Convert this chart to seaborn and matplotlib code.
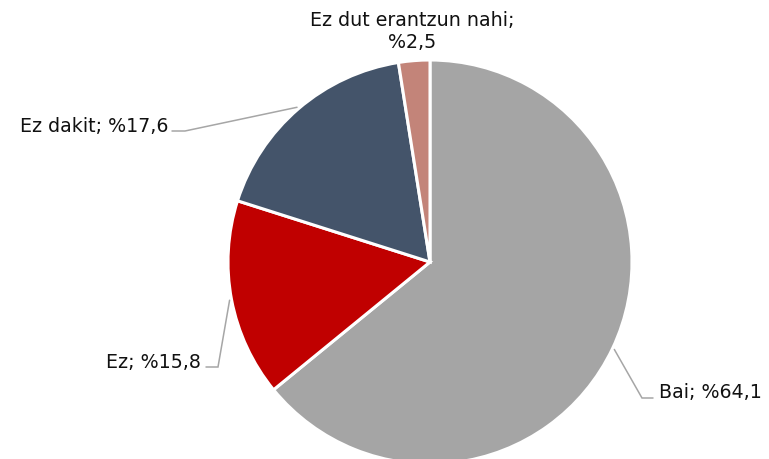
import seaborn as sns
import matplotlib.pyplot as plt
import numpy as np

# data
labels = ['Bai', 'Ez', 'Ez dakit', 'Ez dut erantzun nahi']
values = [64.1, 15.8, 17.6, 2.5]
colors = ['#A5A5A5', '#C00000', '#44546A', '#C38479']

sns.set_theme(style='white')
plt.rcParams['font.family'] = ['DejaVu Sans']

W, H = 769, 459
cx, cy, r = 430, 262, 202  # pie centre / radius in pixels
fs = 13.7

fig = plt.figure(figsize=(W / 100, H / 100), dpi=100)
ax = fig.add_axes([(cx - r) / W, (H - cy - r) / H, 2 * r / W, 2 * r / H])

wedges, _ = ax.pie(values, colors=colors, startangle=90, counterclock=False,
                   radius=1, wedgeprops=dict(edgecolor='white', linewidth=2.2))
ax.set_xlim(-1, 1)
ax.set_ylim(-1, 1)
ax.set_aspect('equal')
ax.axis('off')

def px(x, y):
    # pixel position -> data coords of the pie axes
    return (x - cx) / r, (cy - y) / r

# label layout: (elbow px, line end px, text px, ha)
layout = {
    'Bai': ((642, 398), (653, 398), (659, 392), 'left'),
    'Ez': ((218, 367), (206, 367), (201, 362), 'right'),
    'Ez dakit': ((185, 131), (172, 131), (168, 127), 'right'),
}

fmt = lambda v: ('%.1f' % v).replace('.', ',')

for w, lab, v in zip(wedges, labels, values):
    mid = np.deg2rad((w.theta1 + w.theta2) / 2)
    text = '%s; %%%s' % (lab, fmt(v))
    if lab in layout:
        elbow, end, tpos, ha = layout[lab]
        ax0 = 1.01 * np.cos(mid), 1.01 * np.sin(mid)
        ex, ey = px(*elbow)
        lx, ly = px(*end)
        ax.plot([ax0[0], ex, lx], [ax0[1], ey, ly], color='#A6A6A6', lw=1.1,
                clip_on=False, solid_joinstyle='miter')
        tx, ty = px(*tpos)
        ax.text(tx, ty, text, ha=ha, va='center', fontsize=fs, color='#111111')
    else:
        tx, ty = px(412, 31.5)
        ax.text(tx, ty, '%s;\n%%%s' % (lab, fmt(v)), ha='center', va='center',
                fontsize=fs, color='#111111', linespacing=1.15)

fig.savefig('out.png', dpi=100)
